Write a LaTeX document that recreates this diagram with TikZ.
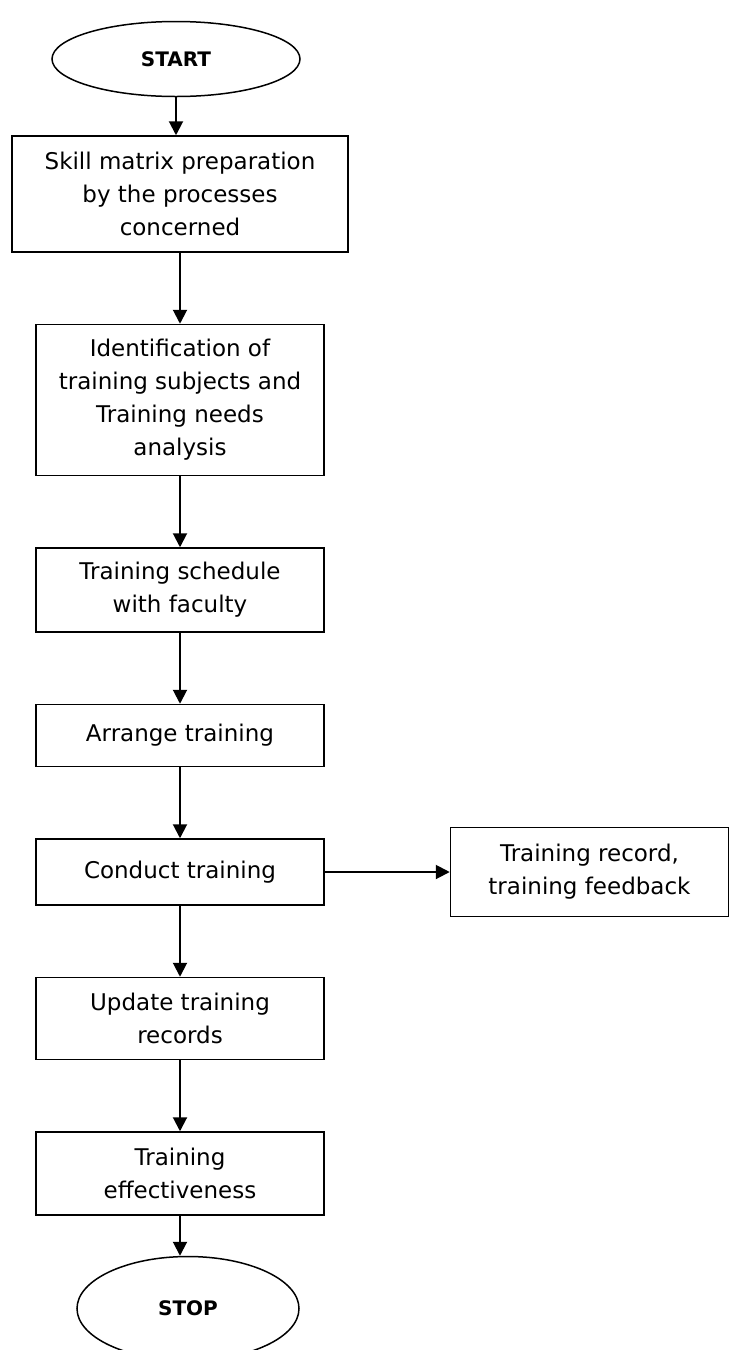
\documentclass[tikz,border=0pt]{standalone}
\usepackage{fontspec}
\setmainfont{DejaVu Sans}
\usetikzlibrary{positioning,shapes.geometric,arrows.meta}

\tikzset{
  procbox/.style={draw, line width=0.75pt, align=center, minimum width=144pt, inner sep=2pt},
  terminal/.style={draw, ellipse, line width=0.75pt, font=\bfseries\fontsize{10}{12}\selectfont, inner sep=0pt},
  flow/.style={-{Triangle[length=7pt,width=7pt]}, line width=1pt}
}

\begin{document}
\begin{tikzpicture}[node distance=35.5pt, every node/.append style={font=\fontsize{11.5}{16.5}\selectfont}]
        \useasboundingbox (0,0) rectangle (364.5pt,-675pt);

        \node[terminal, minimum width=124pt, minimum height=37.5pt] (start) at (88pt,-29.5pt) {START};
        \node[procbox, minimum width=168pt, minimum height=58pt] (skill) [below=19pt of start, xshift=2pt] {Skill matrix preparation \\ by the processes \\ concerned};
        \node[procbox, minimum height=75.5pt] (needs) [below=of skill] {Identification of \\ training subjects and \\ Training needs \\ analysis};
        \node[procbox, minimum height=42pt] (schedule) [below=of needs] {Training schedule \\ with faculty};
        \node[procbox, minimum height=31pt] (arrange) [below=of schedule] {Arrange training};
        \node[procbox, minimum height=33pt] (conduct) [below=of arrange] {Conduct training};
        \node[procbox, minimum width=139pt, minimum height=44.5pt] (record) [right=62.5pt of conduct] {Training record, \\ training feedback};
        \node[procbox, minimum height=41pt] (update) [below=of conduct] {Update training \\ records};
        \node[procbox, minimum height=41.5pt] (effect) [below=of update] {Training \\ effectiveness};
        \node[terminal, minimum width=111pt, minimum height=52pt] (stop) [below=20pt of effect, xshift=4pt] {STOP};

        \draw[flow] (start) -- (start |- skill.north);
        \draw[flow] (skill) -- (needs);
        \draw[flow] (needs) -- (schedule);
        \draw[flow] (schedule) -- (arrange);
        \draw[flow] (arrange) -- (conduct);
        \draw[flow] (conduct.east) -- (conduct.east -| record.west);
        \draw[flow] (conduct) -- (update);
        \draw[flow] (update) -- (effect);
        \draw[flow] (effect) -- (effect |- stop.north);
    \end{tikzpicture}
\end{document}
